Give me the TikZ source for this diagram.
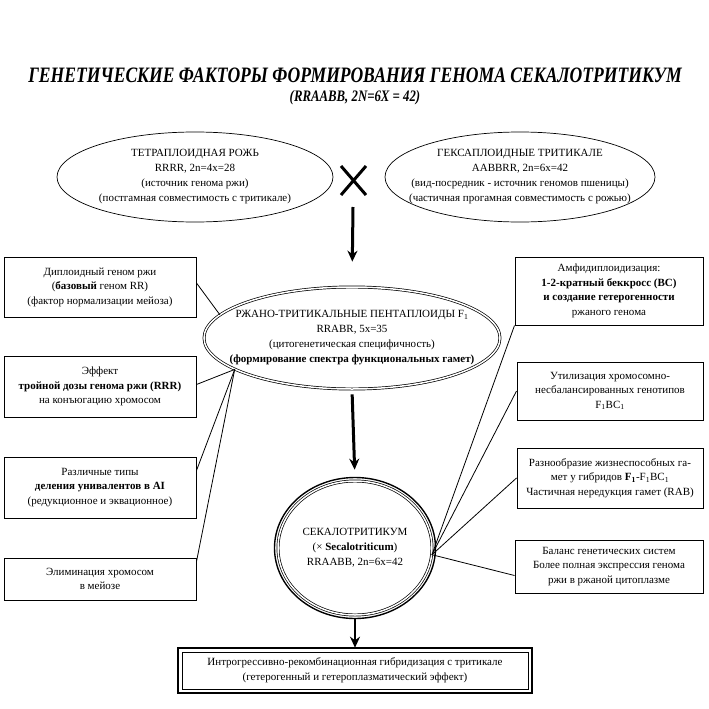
\documentclass[tikz,border=0pt]{standalone}
\usepackage{fontspec}
\setmainfont{Liberation Serif}
\newfontfamily\titlefont[FakeStretch=0.8]{Liberation Serif}
\usetikzlibrary{shapes.geometric, arrows.meta}
\tikzset{>={Stealth[length=11pt,width=10pt]}}
\tikzset{
  factor/.style={draw, line width=1pt, align=center, inner sep=2pt, font=\fontsize{11}{14.5}\selectfont},
  oval/.style={draw, ellipse, line width=0.7pt, inner sep=0pt},
  ovaltext/.style={align=center, font=\fontsize{11}{15}\selectfont},
  bigarrow/.style={->, line width=3pt},
  link/.style={line width=0.8pt},
}

\begin{document}
\begin{tikzpicture}[x=1pt, y=-1pt]
     \useasboundingbox (0,0) rectangle (709,709);
     % title
     \node[font=\titlefont\bfseries\itshape\fontsize{22}{26}\selectfont] (title) at (355,75) {ГЕНЕТИЧЕСКИЕ ФАКТОРЫ ФОРМИРОВАНИЯ ГЕНОМА СЕКАЛОТРИТИКУМ};
     \node[font=\titlefont\bfseries\itshape\fontsize{16}{20}\selectfont] (subtitle) at (355,98) {(RRAABB, 2N=6X = 42)};
     % parent forms
     \node[oval, minimum width=276pt, minimum height=90pt] (rye) at (195,177) {};
     \node[ovaltext] (ryetext) at (rye) {ТЕТРАПЛОИДНАЯ РОЖЬ\\RRRR, 2n=4x=28\\(источник генома ржи)\\(постгамная совместимость с тритикале)};
     \node[oval, minimum width=270pt, minimum height=90pt] (trit) at (520,177) {};
     \node[ovaltext] (trittext) at (trit) {ГЕКСАПЛОИДНЫЕ ТРИТИКАЛЕ\\AABBRR, 2n=6x=42\\(вид-посредник - источник геномов пшеницы)\\(частичная прогамная совместимость с рожью)};
     \draw[line width=3pt] (341,166) -- (366,195) (366,166) -- (341,195);
     \coordinate (cross) at (353,207);
     % hybrids
     \node[oval, double, double distance=1.5pt, minimum width=296pt, minimum height=102pt] (pent) at (352,338) {};
     \node[ovaltext] (penttext) at (pent) {РЖАНО-ТРИТИКАЛЬНЫЕ ПЕНТАПЛОИДЫ F\textsubscript{1}\\RRABR, 5x=35\\(цитогенетическая специфичность)\\\textbf{(формирование спектра функциональных гамет)}};
     \node[oval, double, double distance=1.5pt, minimum width=154pt, minimum height=134pt] (sec) at (355,548) {};
     \draw[line width=1.4pt] (sec.center) ellipse [x radius=80.5pt, y radius=70.5pt];
     \node[ovaltext] (sectext) at (sec) {СЕКАЛОТРИТИКУМ\\(× \textbf{Secalotriticum})\\RRAABB, 2n=6x=42};
     \node[draw, line width=0.6pt, align=center, minimum width=346pt, minimum height=37pt, font=\fontsize{11}{15}\selectfont] (res) at (355,670.5) {Интрогрессивно-рекомбинационная гибридизация с тритикале\\(гетерогенный и гетероплазматический эффект)};
     \draw[line width=2.2pt] ([shift={(-3.5pt,3.5pt)}]res.north west) rectangle ([shift={(3.5pt,-3.5pt)}]res.south east);
     \draw[bigarrow, shorten >=25pt] (cross) -- (pent.north);
     \draw[bigarrow, shorten <=5pt, shorten >=11pt] (pent.south) -- (sec.north);
     \draw[->, line width=2.5pt, shorten <=3pt, shorten >=4pt] (sec.south) -- (res.north);
     % factors, left
     \node[factor, minimum width=192pt, minimum height=60pt] (dip) at (100,287) {Диплоидный геном ржи\\(\textbf{базовый} геном RR)\\(фактор нормализации мейоза)};
     \node[factor, minimum width=192pt, minimum height=61pt] (dose) at (100,386.5) {Эффект\\\textbf{тройной дозы генома ржи (RRR)}\\на конъюгацию хромосом};
     \node[factor, minimum width=192pt, minimum height=61pt] (univ) at (100,487.5) {Различные типы\\\textbf{деления унивалентов в AI}\\(редукционное и эквационное)};
     \node[factor, minimum width=192pt, minimum height=42pt] (elim) at (100,579) {Элиминация хромосом\\в мейозе};
     % factors, right
     \node[factor, minimum width=188pt, minimum height=68pt] (amph) at (609,291) {Амфидиплоидизация:\\\textbf{1-2-кратный беккросс (BC)}\\\textbf{и создание гетерогенности}\\ржаного генома};
     \node[factor, minimum width=186pt, minimum height=58pt] (util) at (610,391) {Утилизация хромосомно-\\несбалансированных генотипов\\F\textsubscript{1}BC\textsubscript{1}};
     \node[factor, minimum width=186pt, minimum height=60pt] (gam) at (610,478) {Разнообразие жизнеспособных га-\\мет у гибридов \textbf{F\textsubscript{1}}-F\textsubscript{1}BC\textsubscript{1}\\Частичная нередукция гамет (RAB)};
     \node[factor, minimum width=188pt, minimum height=53pt] (bal) at (609,566.5) {Баланс генетических систем\\Более полная экспрессия генома\\ржи в ржаной цитоплазме};
     % links
     \draw[link] ([yshift=4pt]dip.east) -- (pent.170);
     \draw[link] ([yshift=2pt]dose.east) -- (pent.195);
     \draw[link] ([yshift=17pt]univ.east) -- (pent.195);
     \draw[link] ([yshift=-4pt]elim.north east) -- (pent.195);
     \draw[link] (amph.south west) -- (sec.355);
     \draw[link] (util.west) -- (sec.355);
     \draw[link] (gam.west) -- (sec.355);
     \draw[link] ([yshift=-9pt]bal.west) -- (sec.355);
\end{tikzpicture}
\end{document}
